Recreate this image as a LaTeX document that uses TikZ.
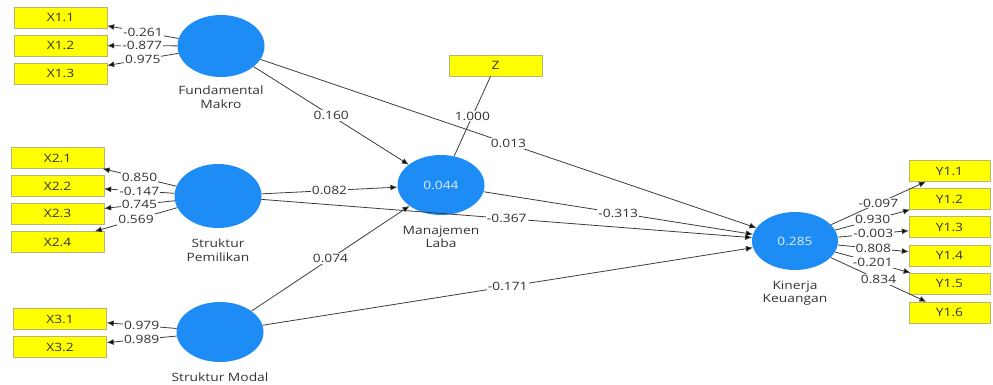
\documentclass[tikz,border=0pt]{standalone}
\usepackage{fontspec}
\setmainfont[FakeStretch=1.2]{Open Sans}
\usetikzlibrary{shapes.geometric,arrows.meta}
\definecolor{lvblue}{RGB}{30,140,245}
\definecolor{mvyellow}{RGB}{255,255,0}
\definecolor{mvborder}{RGB}{185,180,110}
\definecolor{pathgray}{RGB}{60,60,60}

\begin{document}
\begin{tikzpicture}[x=1pt,y=-1pt,font=\fontsize{11.5}{13.5}\selectfont]
\tikzstyle{latent} = [ellipse, fill=lvblue, minimum width=87pt, minimum height=62pt, inner sep=0pt, text=white!85!lvblue]
\tikzstyle{indicator} = [rectangle, draw=mvborder, fill=mvyellow, minimum width=93pt, minimum height=21pt, inner sep=0pt, text=black!80]
\tikzstyle{yindicator} = [indicator, minimum width=81pt]
\tikzstyle{coef} = [fill=white, inner sep=1pt, text=black!80]
\tikzstyle{caption} = [align=center, text=black!80]
\tikzstyle{loading} = [draw=pathgray, line width=0.8pt, -{Latex[length=7pt,width=6pt]}]

\useasboundingbox (0,0) rectangle (993,385);

\node (FM) [latent] at (221,46) {};
\node (SP) [latent, minimum height=64pt] at (218,196) {};
\node (SM) [latent, minimum height=60pt] at (220,332) {};
\node (ML) [latent, minimum height=60pt] at (441,185) {0.044};
\node (KK) [latent, minimum width=86pt, minimum height=58pt] at (795,241) {0.285};

\node (FMt) [caption] at (221,97) {Fundamental\\Makro};
\node (SPt) [caption] at (218,250) {Struktur\\Pemilikan};
\node (SMt) [caption] at (220,377) {Struktur Modal};
\node (MLt) [caption] at (441,237) {Manajemen\\Laba};
\node (KKt) [caption] at (795,293) {Kinerja\\Keuangan};

\node (X11) [indicator] at (60.5,17.5) {X1.1};
\node (X12) [indicator] at (60.5,45.5) {X1.2};
\node (X13) [indicator] at (60.5,73.5) {X1.3};
\node (X21) [indicator] at (57.5,158) {X2.1};
\node (X22) [indicator] at (57.5,186) {X2.2};
\node (X23) [indicator] at (57.5,213.5) {X2.3};
\node (X24) [indicator] at (57.5,242) {X2.4};
\node (X31) [indicator] at (60,319) {X3.1};
\node (X32) [indicator] at (60,347) {X3.2};
\node (Z) [indicator] at (495.5,65.5) {Z};
\node (Y11) [yindicator] at (949.5,171) {Y1.1};
\node (Y12) [yindicator] at (949.5,199) {Y1.2};
\node (Y13) [yindicator] at (949.5,227) {Y1.3};
\node (Y14) [yindicator] at (949.5,255.5) {Y1.4};
\node (Y15) [yindicator] at (949.5,283.5) {Y1.5};
\node (Y16) [yindicator] at (949.5,312.5) {Y1.6};

\draw [pathgray, line width=0.8pt] (Z) -- node[coef] {1.000} (ML);

\path [loading] (FM) edge node[coef] {0.160} (ML)
                (FM) edge node[coef] {0.013} (KK)
                (SP) edge node[coef] {0.082} (ML)
                (SP) edge node[coef] {-0.367} (KK)
                (SM) edge node[coef] {0.074} (ML)
                (SM) edge node[coef] {-0.171} (KK)
                (ML) edge node[coef] {-0.313} (KK);

\path [loading] (FM) edge node[coef] {-0.261} (X11)
                (FM) edge node[coef] {-0.877} (X12)
                (FM) edge node[coef] {0.975} (X13)
                (SP) edge node[coef] {0.850} (X21)
                (SP) edge node[coef] {-0.147} (X22)
                (SP) edge node[coef] {0.745} (X23)
                (SP) edge node[coef] {0.569} (X24)
                (SM) edge node[coef] {0.979} (X31)
                (SM) edge node[coef] {0.989} (X32)
                (KK) edge node[coef] {-0.097} (Y11)
                (KK) edge node[coef] {0.930} (Y12)
                (KK) edge node[coef] {-0.003} (Y13)
                (KK) edge node[coef] {0.808} (Y14)
                (KK) edge node[coef] {-0.201} (Y15)
                (KK) edge node[coef] {0.834} (Y16);
\end{tikzpicture}
\end{document}
